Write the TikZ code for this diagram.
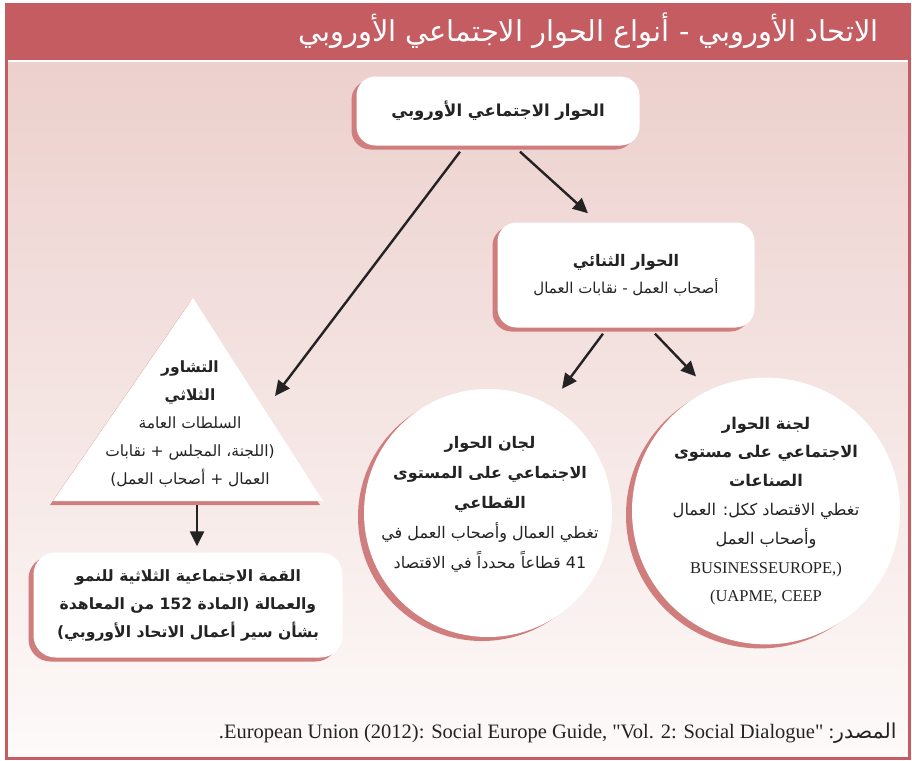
\documentclass[tikz,border=0pt]{standalone}
\usepackage{fontspec}
\setmainfont{Liberation Serif}[Ligatures=TeXOff]
\newfontfamily\arabicfont[Script=Arabic]{DejaVu Sans}
\usetikzlibrary{arrows.meta,shadows,shapes.geometric,calc}
\TeXXeTstate=1
\definecolor{framered}{RGB}{196,92,98}
\definecolor{shadered}{RGB}{207,125,125}
\definecolor{bgtop}{RGB}{236,208,205}
\definecolor{bgbot}{RGB}{253,250,249}
\definecolor{ink}{RGB}{35,35,35}
\newcommand{\ar}[1]{{\arabicfont\beginR #1\endR}}
\newcommand{\arb}[1]{{\arabicfont\bfseries\beginR #1\endR}}

\begin{document}
\begin{tikzpicture}[x=1pt, y=-1pt,
  bodytext/.style={text=ink, align=center, font=\fontsize{15}{27}\selectfont},
  card/.style={bodytext, fill=white, rounded corners=19pt,
    general shadow={fill=shadered, opacity=1, shadow xshift=-5pt, shadow yshift=-4pt}},
  disc/.style={fill=white, inner sep=0pt,
    general shadow={fill=shadered, opacity=1, shadow xshift=-6pt, shadow yshift=-4pt}},
  arrowline/.style={draw=ink, line width=2.4pt, -{Triangle[length=15pt,width=14pt]}}]
\useasboundingbox (0,0) rectangle (912,760);
% frame and title bar
\fill[white] (0,0) rectangle (912,760);
\shade[top color=bgtop, bottom color=bgbot] (8,63) rectangle (908,757);
\draw[framered, line width=3pt] (6.5,60) -- (6.5,758.5) -- (909.5,758.5) -- (909.5,60);
\fill[framered] (5,3) rectangle (911,60);
\node[anchor=east, text=white, font=\fontsize{28.8}{32}\selectfont] (title) at (882,31)
  {\ar{الاتحاد الأوروبي - أنواع الحوار الاجتماعي الأوروبي}};

% boxes
\node[card, minimum width=283, minimum height=69, font=\fontsize{16.5}{27}\selectfont] (euro) at (498,111)
  {\arb{الحوار الاجتماعي الأوروبي}};
\node[card, minimum width=257, minimum height=105] (bilat) at (626,275)
  {{\fontsize{16}{27}\selectfont\arb{الحوار الثنائي}}\\\ar{أصحاب العمل - نقابات العمال}};
\node[card, minimum width=309, minimum height=105, rounded corners=22pt,
  font=\fontsize{15.6}{28}\selectfont] (summit) at (188,605)
  {\arb{القمة الاجتماعية الثلاثية للنمو}\\\arb{والعمالة (المادة \beginL 152\endL{} من المعاهدة}\\\arb{بشأن سير أعمال الاتحاد الأوروبي)}};

% tripartite triangle
\coordinate (tri-top) at (193,298);
\coordinate (tri-left) at (53,501);
\coordinate (tri-right) at (323,501);
\coordinate (tri-in) at (275,396);
\coordinate (tri-base) at (197,505);
\fill[shadered] ($(tri-top)+(-3,4)$) -- ($(tri-left)+(-3,4)$) -- ($(tri-right)+(-3,4)$) -- cycle;
\fill[white] (tri-top) -- (tri-left) -- (tri-right) -- cycle;
\node[bodytext, font=\fontsize{15.5}{28}\selectfont] (tri) at (190,424)
  {\arb{التشاور}\\\arb{الثلاثي}\\\ar{السلطات العامة}\\\ar{(اللجنة، المجلس + نقابات}\\\ar{العمال + أصحاب العمل)}};

% committees
\node[disc, circle, minimum size=248] (sector) at (488,513) {};
\node[bodytext, font=\fontsize{16}{30}\selectfont] (sector-txt) at (490,504)
  {\arb{لجان الحوار}\\\arb{الاجتماعي على المستوى}\\\arb{القطاعي}\\\ar{تغطي العمال وأصحاب العمل في}\\\ar{\beginL 41\endL{} قطاعاً محدداً في الاقتصاد}};
\node[disc, ellipse, minimum width=268, minimum height=248, bodytext,
  font=\fontsize{16.2}{28.8}\selectfont] (industry) at (766,511)
  {\arb{لجنة الحوار}\\\arb{الاجتماعي على مستوى}\\\arb{الصناعات}\\\ar{تغطي الاقتصاد ككل: العمال}\\\ar{وأصحاب العمل}\\{\fontsize{16.5}{20}\selectfont BUSINESSEUROPE,)}\\{\fontsize{16.5}{20}\selectfont (UAPME, CEEP}};

% connectors
\draw[arrowline] ([xshift=-38pt,yshift=-6pt]euro.south) -- (tri-in);
\draw[arrowline] ([xshift=22pt,yshift=-6pt]euro.south) -- ([xshift=-38pt,yshift=9pt]bilat.north);
\draw[arrowline] ([xshift=-23pt,yshift=-6pt]bilat.south) -- ([xshift=74pt]sector.north);
\draw[arrowline] ([xshift=29pt,yshift=-6pt]bilat.south) -- ([xshift=-70pt,yshift=1pt]industry.north);
\draw[arrowline, shorten >=6pt] (tri-base) -- (tri-base |- summit.north);

\node[anchor=east, text=ink, font=\fontsize{20.5}{24}\selectfont] (source) at (900,733)
  {.European Union (2012): Social Europe Guide, "Vol. 2: Social Dialogue" :\ar{المصدر}};
\end{tikzpicture}
\end{document}
